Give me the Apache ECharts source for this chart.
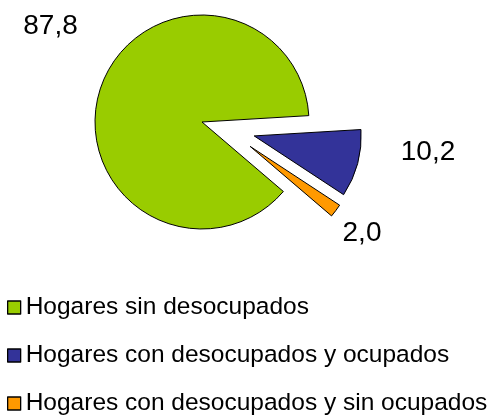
<!DOCTYPE html>
<html><head><meta charset="utf-8">
<script src="https://cdn.jsdelivr.net/npm/echarts@6/dist/echarts.min.js"></script>
<style>html,body{margin:0;padding:0;background:#fff}#c{width:491px;height:417px}</style>
</head><body><div id="c"></div>
<script>
const categories = ['Hogares sin desocupados', 'Hogares con desocupados y ocupados', 'Hogares con desocupados y sin ocupados'];
const values = [87.8, 10.2, 2.0];
const colors = ['#99CC00', '#333399', '#FF9900'];
const exploded = [false, true, true];
const labelPos = [[50.5, 26.5], [428, 152], [362, 233.5]];

const font = 'Liberation Sans, Arial, sans-serif';
const hidden = {color: 'rgba(0,0,0,0)', borderColor: 'rgba(0,0,0,0)', borderWidth: 0};
function pieData(visibleIdx, useSel) {
  return categories.map((n, i) => ({
    name: n, value: values[i], selected: useSel ? exploded[i] : false,
    itemStyle: visibleIdx.includes(i) ? {color: colors[i], borderColor: '#000', borderWidth: 1} : hidden
  }));
}
const common = {
  type: 'pie', radius: [0, 107],
  startAngle: -40.5, clockwise: true,
  selectedMode: 'multiple', selectedOffset: 54,
  avoidLabelOverlap: false,
  emphasis: {disabled: true},
  labelLine: {show: false},
  label: {show: false}
};
const chart = echarts.init(document.getElementById('c'), null, {renderer: 'canvas'});
chart.setOption({
  animation: false,
  backgroundColor: '#fff',
  legend: {
    orient: 'vertical', left: 7, top: 295, padding: 0,
    itemWidth: 13, itemHeight: 13, itemGap: 23,
    icon: 'rect',
    selectedMode: false,
    textStyle: {fontFamily: font, fontSize: 24.5, color: '#000', lineHeight: 23},
    data: categories.map((n, i) => ({name: n, itemStyle: {color: colors[i], borderColor: '#000', borderWidth: 1.3}}))
  },
  series: [
    Object.assign({}, common, {center: [202, 122], data: pieData([0, 1], true)}),
    Object.assign({}, common, {center: [207, 114], data: pieData([2], true)}),
    Object.assign({}, common, {
      center: [202, 122], silent: true, selectedMode: false,
      label: {
        show: true, position: 'outside', overflow: 'none',
        fontFamily: font, fontSize: 28, color: '#000',
        formatter: p => p.value.toFixed(1).replace('.', ',')
      },
      labelLayout: p => ({x: labelPos[p.dataIndex][0], y: labelPos[p.dataIndex][1], align: 'center', verticalAlign: 'middle'}),
      data: pieData([], false)
    })
  ]
});
</script></body></html>
